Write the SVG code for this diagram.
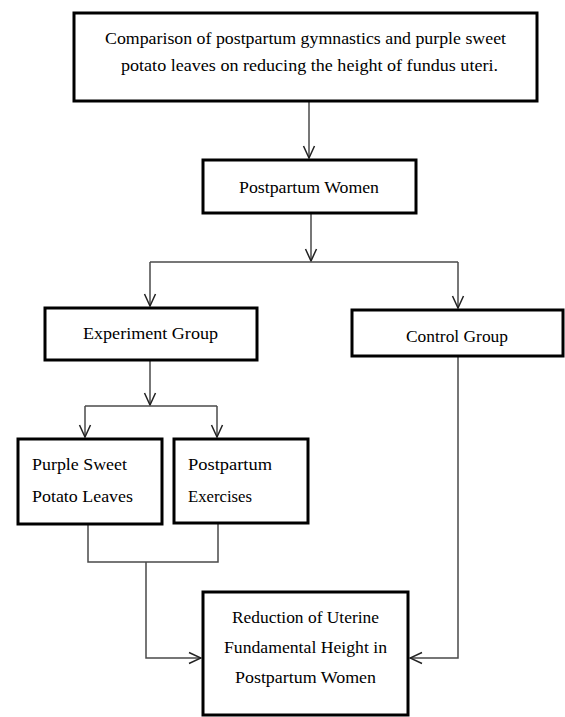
<svg xmlns="http://www.w3.org/2000/svg" width="565" height="717" viewBox="0 0 565 717">
<style>
.box{fill:#fff;stroke:#000;stroke-width:3}
.t{font-family:"Liberation Serif","DejaVu Serif",serif;font-size:17px;fill:#000}
.c{fill:none;stroke:#4a4a4a;stroke-width:1.5}
</style>
<defs>
<marker id="ah" viewBox="0 0 14 14" refX="13" refY="7" markerWidth="14" markerHeight="14" markerUnits="userSpaceOnUse" orient="auto">
<path d="M1 1.5 L13 7 L1 12.5" fill="none" stroke="#222" stroke-width="1.5"/>
</marker>
</defs>
<rect width="565" height="717" fill="#fff"/>
<g id="connectors">
<path class="c" d="M309 101 V158" marker-end="url(#ah)"/>
<path class="c" d="M311 213 V261" marker-end="url(#ah)"/>
<path class="c" d="M150 262 H458"/>
<path class="c" d="M150 262 V306" marker-end="url(#ah)"/>
<path class="c" d="M458 262 V308" marker-end="url(#ah)"/>
<path class="c" d="M150 360 V405" marker-end="url(#ah)"/>
<path class="c" d="M85 406 H217"/>
<path class="c" d="M85 406 V437" marker-end="url(#ah)"/>
<path class="c" d="M217 406 V437" marker-end="url(#ah)"/>
<path class="c" d="M88 524 V562 H218 V523"/>
<path class="c" d="M146 562 V658 H201" marker-end="url(#ah)"/>
<path class="c" d="M458 356 V658 H410" marker-end="url(#ah)"/>
</g>
<g id="title">
<rect class="box" x="74" y="13" width="463" height="88"/>
<text class="t" x="105" y="44" textLength="401" lengthAdjust="spacingAndGlyphs">Comparison of postpartum gymnastics and purple sweet</text>
<text class="t" x="121" y="71" textLength="377" lengthAdjust="spacingAndGlyphs">potato leaves on reducing the height of fundus uteri.</text>
</g>
<g id="postpartum-women">
<rect class="box" x="203" y="160" width="213" height="53"/>
<text class="t" x="239" y="193" textLength="140" lengthAdjust="spacingAndGlyphs">Postpartum Women</text>
</g>
<g id="experiment-group">
<rect class="box" x="45" y="308" width="212" height="52"/>
<text class="t" x="83" y="339" textLength="135" lengthAdjust="spacingAndGlyphs">Experiment  Group</text>
</g>
<g id="control-group">
<rect class="box" x="352" y="310" width="211" height="46"/>
<text class="t" x="406" y="342" textLength="102" lengthAdjust="spacingAndGlyphs">Control Group</text>
</g>
<g id="purple-sweet-potato-leaves">
<rect class="box" x="18" y="439" width="144" height="85"/>
<text class="t" x="32" y="470" textLength="95" lengthAdjust="spacingAndGlyphs">Purple Sweet</text>
<text class="t" x="32" y="502" textLength="101" lengthAdjust="spacingAndGlyphs">Potato Leaves</text>
</g>
<g id="postpartum-exercises">
<rect class="box" x="174" y="439" width="134" height="84"/>
<text class="t" x="188" y="470" textLength="84" lengthAdjust="spacingAndGlyphs">Postpartum</text>
<text class="t" x="188" y="502" textLength="64" lengthAdjust="spacingAndGlyphs">Exercises</text>
</g>
<g id="reduction">
<rect class="box" x="203" y="592" width="205" height="123"/>
<text class="t" x="232" y="623" textLength="147" lengthAdjust="spacingAndGlyphs">Reduction of Uterine</text>
<text class="t" x="224" y="653" textLength="163" lengthAdjust="spacingAndGlyphs">Fundamental Height in</text>
<text class="t" x="235" y="683" textLength="141" lengthAdjust="spacingAndGlyphs">Postpartum Women</text>
</g>
</svg>
